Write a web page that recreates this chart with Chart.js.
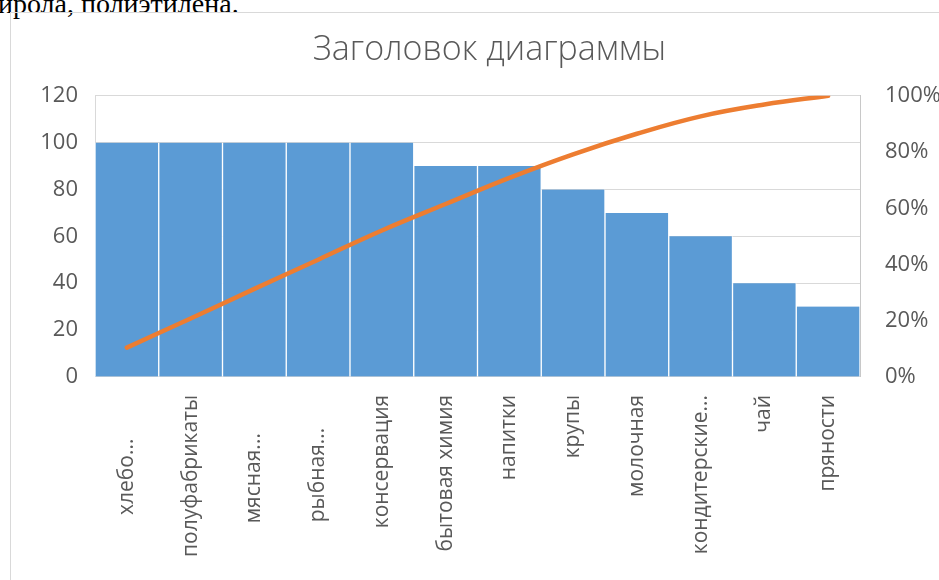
<!DOCTYPE html>
<html><head><meta charset="utf-8">
<script src="https://cdn.jsdelivr.net/npm/chart.js@4/dist/chart.umd.min.js"></script>
<style>
html,body{margin:0;padding:0;background:#fff;overflow:hidden;width:939px;height:580px}
#doc{position:absolute;left:-2px;top:-12px;font-family:"Liberation Serif",serif;font-size:28px;color:#000;white-space:nowrap}
#frame{position:absolute;left:10px;top:12px;width:929px;height:568px;border-left:1px solid #d9d9d9;border-top:1px solid #d9d9d9;box-sizing:border-box}
#wrap{position:absolute;left:0;top:0;width:939px;height:580px}
</style></head><body>
<div id="doc">ирола, полиэтилена.</div>
<div id="frame"></div>
<div id="wrap"><canvas id="c" width="939" height="580"></canvas></div>
<script>
const categories = ['хлебо...        ', 'полуфабрикаты', 'мясная...       ', 'рыбная...      ', 'консервация', 'бытовая химия', 'напитки', 'крупы', 'молочная', 'кондитерские...', 'чай', 'пряности'];
const salesValues = [100, 100, 100, 100, 100, 90, 90, 80, 70, 60, 40, 30];
const cumulativePercent = [10.4, 20.8, 31.3, 41.7, 52.1, 61.5, 70.8, 79.2, 86.5, 92.7, 96.9, 100];
const leftTicks = [0, 20, 40, 60, 80, 100, 120];
const rightTicks = [0, 20, 40, 60, 80, 100];
const chartTitle = 'Заголовок диаграммы';

const tickColor = '#595959';
const gridColor = '#d9d9d9';

const shiftTitle = {
  id: 'shiftTitle',
  afterLayout(chart) {
    const t = chart.titleBlock;
    if (t) { t.left += 20; t.right += 20; }
  }
};

new Chart(document.getElementById('c'), {
  plugins: [shiftTitle],
  data: {
    labels: categories,
    datasets: [
      {
        type: 'line',
        data: cumulativePercent,
        yAxisID: 'y1',
        borderColor: '#ed7d31',
        borderWidth: 4.5,
        pointRadius: 0,
        tension: 0.4,
        borderCapStyle: 'round',
        order: 0
      },
      {
        type: 'bar',
        data: salesValues,
        yAxisID: 'y',
        backgroundColor: '#5b9bd5',
        borderColor: '#ffffff',
        borderWidth: {left: 1, right: 1, top: 0, bottom: 0},
        borderSkipped: false,
        barPercentage: 1,
        categoryPercentage: 1,
        order: 1
      }
    ]
  },
  options: {
    responsive: false,
    animation: false,
    devicePixelRatio: 1,
    layout: {padding: {left: 0, right: 0, top: 0, bottom: 13}},
    plugins: {
      legend: {display: false},
      tooltip: {enabled: false},
      title: {
        display: true,
        text: chartTitle,
        color: tickColor,
        font: {family: 'Open Sans', size: 34, weight: '300'},
        padding: {top: 30, bottom: 25}
      }
    },
    scales: {
      x: {
        grid: {display: false},
        border: {display: true, color: gridColor},
        ticks: {
          color: tickColor,
          font: {family: 'Open Sans', size: 21},
          minRotation: 90,
          maxRotation: 90,
          autoSkip: false,
          padding: 10
        }
      },
      y: {
        position: 'left',
        min: 0, max: 120,
        afterBuildTicks: (axis) => { axis.ticks = leftTicks.map(v => ({value: v})); },
        afterFit: (axis) => { axis.width = 95; },
        grid: {color: gridColor, drawTicks: false},
        border: {display: true, color: gridColor},
        ticks: {color: tickColor, font: {family: 'Open Sans', size: 22}, padding: 17}
      },
      y1: {
        position: 'right',
        min: 0, max: 100,
        afterBuildTicks: (axis) => { axis.ticks = rightTicks.map(v => ({value: v})); },
        afterFit: (axis) => { axis.width = 79; },
        grid: {display: false, drawTicks: false},
        border: {display: true, color: '#c8c8c8', dash: [3, 2]},
        ticks: {color: tickColor, font: {family: 'Open Sans', size: 22}, padding: 25, callback: (v) => v + '%'}
      }
    }
  }
});
</script>
</body></html>
